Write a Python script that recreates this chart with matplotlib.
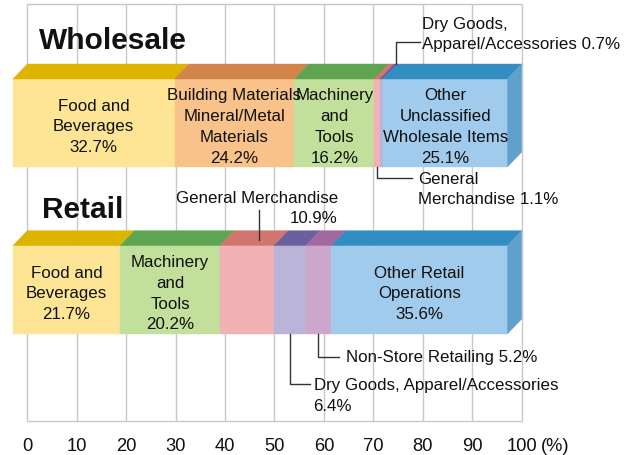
import matplotlib
matplotlib.use("Agg")
import matplotlib.pyplot as plt
from matplotlib.patches import Polygon
import numpy as np

# ---------------- data ----------------
wholesale_keys = ["food", "building", "machinery", "general", "dry", "other"]
wholesale_labels = ["Food and\nBeverages", "Building Materials\nMineral/Metal\nMaterials",
                    "Machinery\nand\nTools", None, None,
                    "Other\nUnclassified\nWholesale Items"]
wholesale_vals = [32.7, 24.2, 16.2, 1.1, 0.7, 25.1]

retail_keys = ["food", "machinery", "general", "dry", "nonstore", "other"]
retail_labels = ["Food and\nBeverages", "Machinery\nand\nTools", None, None, None,
                 "Other Retail\nOperations"]
retail_vals = [21.7, 20.2, 10.9, 6.4, 5.2, 35.6]

xticks = [0, 10, 20, 30, 40, 50, 60, 70, 80, 90, 100]

front_colors = {"food": "#FDE595", "building": "#F8C28A", "machinery": "#C2DF9B",
                "general": "#F2B1B4", "dry": "#B9B4D8", "nonstore": "#CDA6CB",
                "other": "#A1CBEC"}
top_colors = {"food": "#DDB500", "building": "#D48448", "machinery": "#5FA551",
              "general": "#D17570", "dry": "#6C5F9E", "nonstore": "#A1699E",
              "other": "#328EC2"}
side_color = "#60A0CD"

# ---------------- layout ----------------
W, H = 640, 456
S = 4.944            # px per percent
X0 = 27.3            # px of 0 %
fig = plt.figure(figsize=(W / 100, H / 100), dpi=100)
ax = fig.add_axes([0, 0, 1, 1])
ax.set_xlim(-X0 / S, (W - X0) / S)
ax.set_ylim(H, 0)
ax.axis("off")

FONT = ["Liberation Sans", "DejaVu Sans"]
plt.rcParams["font.family"] = FONT

DX = 14.4 / S        # depth (horizontal), in %
GRID_TOP, GRID_BOT = 5, 422
gc = "#C8C8C8"
ax.vlines(xticks, GRID_TOP, GRID_BOT, colors=gc, lw=1.0, zorder=1)
ax.hlines([GRID_TOP, GRID_BOT], xticks[0], xticks[-1], colors=gc, lw=1.0, zorder=1)

TXT = "#111111"
for t in xticks:
    ax.text(t, 447, str(t), ha="center", va="center", fontsize=13.2, color=TXT)
ax.text(xticks[-1] + 19 / S, 447, "(%)", ha="left", va="center", fontsize=13.2, color=TXT)

LS = 1.48


def draw_bar(vals, keys, labels, y_back, y_top, y_bot):
    cum = np.concatenate([[0], np.cumsum(vals)])
    for i, (v, k) in enumerate(zip(vals, keys)):
        a, b = cum[i] - DX, cum[i + 1] - DX
        ax.add_patch(Polygon([(a, y_bot), (b, y_bot), (b, y_top), (a, y_top)],
                             closed=True, fc=front_colors[k], ec=front_colors[k],
                             lw=0.3, zorder=3))
        ax.add_patch(Polygon([(a, y_top), (b, y_top), (b + DX, y_back), (a + DX, y_back)],
                             closed=True, fc=top_colors[k], ec=top_colors[k],
                             lw=0.3, zorder=3))
        if i == len(vals) - 1:
            ax.add_patch(Polygon([(b, y_top), (b + DX, y_back), (b + DX, y_bot - (y_top - y_back)),
                                  (b, y_bot)], closed=True, fc=side_color, ec=side_color,
                                 lw=0.3, zorder=3))
        if labels[i]:
            ax.text((a + b) / 2, (y_top + y_bot) / 2 + 3, f"{labels[i]}\n{v}%",
                    ha="center", va="center", multialignment="center",
                    fontsize=12.2, linespacing=LS, color=TXT, zorder=5)
    return cum


wc = draw_bar(wholesale_vals, wholesale_keys, wholesale_labels, 65, 80, 168)
rc = draw_bar(retail_vals, retail_keys, retail_labels, 231.7, 246.7, 335)

ax.text(2.3, 49, "Wholesale", fontsize=21.5, fontweight="bold", ha="left", va="baseline",
        color=TXT)
ax.text(3.0, 218, "Retail", fontsize=21.5, fontweight="bold", ha="left", va="baseline",
        color=TXT)

lc = "#333333"
lw = 1.0
fs = 12.2


def center(cum, i):
    return (cum[i] + cum[i + 1]) / 2


# Wholesale: Dry goods (top face, upward)
x = center(wc, 4)
ax.plot([x, x, 79.4], [65, 42.5, 42.5], color=lc, lw=lw, zorder=4)
ax.text(79.9, 34.5, f"Dry Goods,\nApparel/Accessories {wholesale_vals[4]}%", ha="left",
        va="center", fontsize=fs, linespacing=LS, color=TXT)

# Wholesale: General merchandise (front, downward)
x = center(wc, 3) - DX
ax.plot([x, x, 77.8], [168, 179, 179], color=lc, lw=lw, zorder=4)
ax.text(79.1, 189.5, f"General\nMerchandise {wholesale_vals[3]}%", ha="left",
        va="center", fontsize=fs, linespacing=LS, color=TXT)

# Retail: General merchandise (top face, upward)
x = center(rc, 2) - 0.4
ax.plot([x, x], [241, 211], color=lc, lw=lw, zorder=4)
ax.text(62.8, 208.5, f"General Merchandise\n{retail_vals[2]}%", ha="right",
        multialignment="right", va="center", fontsize=fs, linespacing=LS, color=TXT)

# Retail: Non-store (front, downward)
x = center(rc, 4) - DX
ax.plot([x, x, 63.0], [335, 358, 358], color=lc, lw=lw, zorder=4)
ax.text(64.5, 358, f"Non-Store Retailing {retail_vals[4]}%", ha="left", va="center",
        fontsize=fs, color=TXT)

# Retail: Dry goods (front, downward)
x = center(rc, 3) - DX
ax.plot([x, x, 57.2], [335, 385, 385], color=lc, lw=lw, zorder=4)
ax.text(57.9, 396, f"Dry Goods, Apparel/Accessories\n{retail_vals[3]}%", ha="left",
        va="center", fontsize=fs, linespacing=LS, color=TXT)

fig.savefig("out.png", dpi=100)
